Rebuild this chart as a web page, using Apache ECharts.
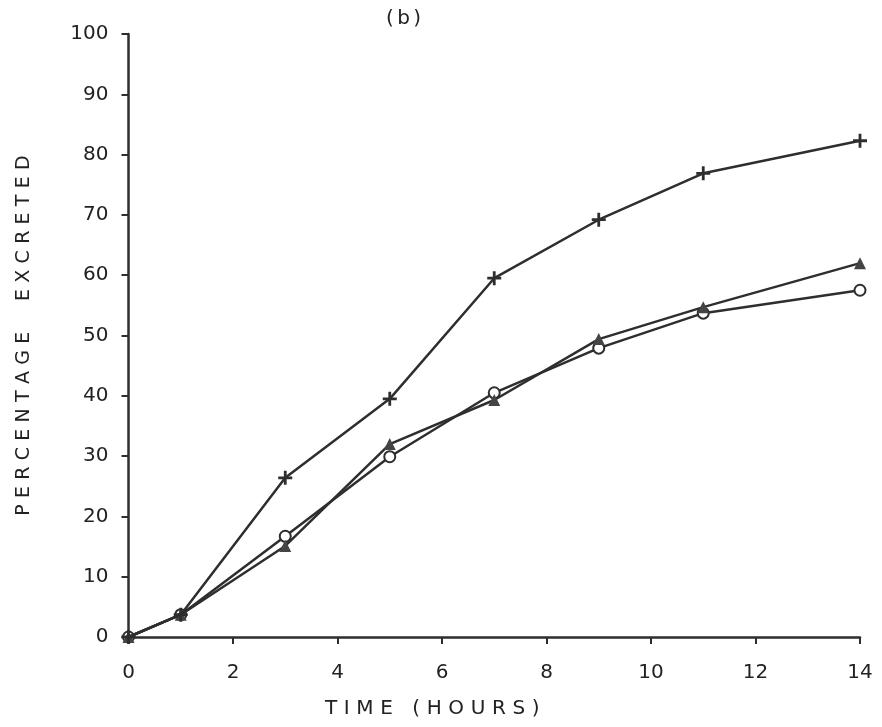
<!DOCTYPE html>
<html>
<head>
<meta charset="utf-8">
<script src="https://cdn.jsdelivr.net/npm/echarts@6/dist/echarts.min.js"></script>
<style>
  html, body { margin: 0; padding: 0; background: #fff; }
  #chart { width: 882px; height: 727px; }
</style>
</head>
<body>
<div id="chart"></div>
<script>
// Sampling times (hours)
const hours = [0, 1, 3, 5, 7, 9, 11, 14];
// Cumulative percentage excreted, one array per curve
const plusSeries = [0, 3.7, 26.4, 39.5, 59.5, 69.2, 76.9, 82.3];
const triangleSeries = [0, 3.7, 15.1, 32.0, 39.3, 49.4, 54.7, 62.0];
const circleSeries = [0, 3.7, 16.7, 29.9, 40.5, 47.9, 53.7, 57.5];

const xTicks = [0, 2, 4, 6, 8, 10, 12, 14];
const yTicks = [0, 10, 20, 30, 40, 50, 60, 70, 80, 90, 100];

const panelLabel = '(b)';
const xName = 'TIME (HOURS)';
const yName = 'PERCENTAGE  EXCRETED';

const ink = '#2e2e2e';
const textInk = '#222';
const font = 'DejaVu Sans';

// widen letter spacing with a three-per-em space between characters
function spaced(s, gap) {
  return s.split('').join(gap || '\u2004');
}

function pairs(ys) {
  return hours.map((h, i) => [h, ys[i]]);
}

const plusPath = 'path://M4,0h2v4h4v2h-4v4h-2v-4h-4v-2h4z';

function lineSeries(name, ys, symbol, size, itemStyle, z) {
  return {
    name: name,
    type: 'line',
    data: pairs(ys),
    symbol: symbol,
    symbolSize: size,
    showAllSymbol: true,
    lineStyle: { color: ink, width: 2.5 },
    itemStyle: itemStyle,
    z: z
  };
}

const chart = echarts.init(document.getElementById('chart'), null, { renderer: 'canvas' });
chart.setOption({
  animation: false,
  backgroundColor: '#fff',
  grid: { left: 128.5, right: 22, top: 34, bottom: 90 },
  graphic: [{
    type: 'text',
    left: 386,
    top: 9,
    style: {
      text: spaced(panelLabel, '\u2006'),
      fontFamily: font, fontSize: 20, fill: textInk
    }
  }],
  xAxis: {
    type: 'value',
    min: 0, max: 14, interval: 2,
    name: spaced(xName),
    nameLocation: 'middle',
    nameGap: 62,
    nameTextStyle: { fontFamily: font, fontSize: 20, color: textInk, padding: [0, 124, 0, 0] },
    axisLine: { show: true, lineStyle: { color: ink, width: 2.5 } },
    axisTick: { show: true, inside: false, length: 7, lineStyle: { color: ink, width: 2 } },
    axisLabel: {
      margin: 26,
      fontFamily: font, fontSize: 20, color: textInk,
      formatter: v => xTicks.includes(v) ? String(v) : ''
    },
    splitLine: { show: false }
  },
  yAxis: {
    type: 'value',
    min: 0, max: 100, interval: 10,
    name: spaced(yName),
    nameLocation: 'middle',
    nameGap: 95,
    nameTextStyle: { fontFamily: font, fontSize: 19, color: textInk },
    axisLine: { show: true, lineStyle: { color: ink, width: 2.5 } },
    axisTick: { show: true, inside: false, length: 7, lineStyle: { color: ink, width: 2 } },
    axisLabel: {
      margin: 20,
      fontFamily: font, fontSize: 20, color: textInk,
      formatter: v => yTicks.includes(v) ? String(v) : ''
    },
    splitLine: { show: false }
  },
  series: [
    lineSeries('circle', circleSeries, 'emptyCircle', 11, { color: ink, borderWidth: 2.5 }, 2),
    lineSeries('triangle', triangleSeries, 'triangle', 12, { color: '#444' }, 3),
    lineSeries('plus', plusSeries, plusPath, 14, { color: ink }, 4)
  ]
});
</script>
</body>
</html>
